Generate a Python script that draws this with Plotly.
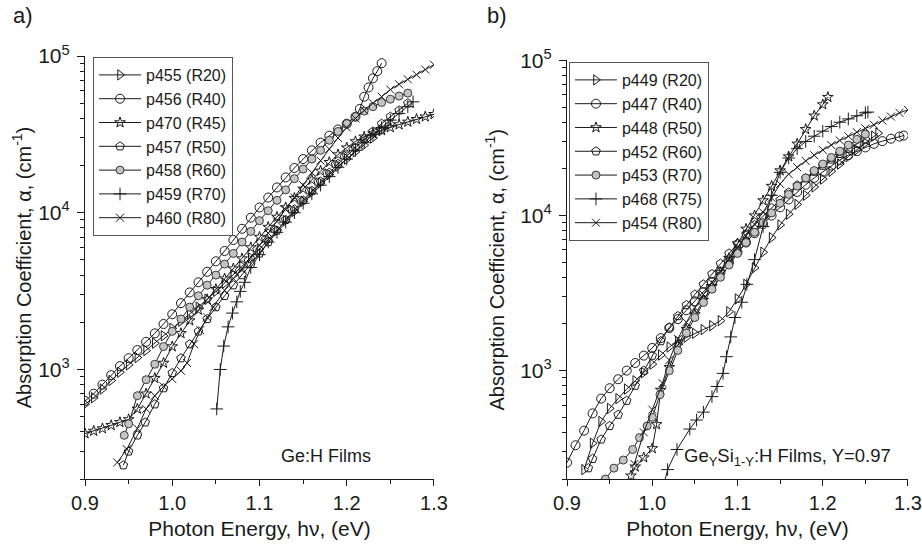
import plotly.graph_objects as go

# ---------------- Panel a) Ge:H films ----------------
a_p455_E = [0.90, 0.91, 0.92, 0.93, 0.94, 0.95, 0.96, 0.97, 0.98, 0.99, 1.00, 1.01, 1.02, 1.03, 1.04, 1.05, 1.06, 1.07, 1.08, 1.09, 1.10, 1.11, 1.12, 1.13, 1.14, 1.15, 1.16, 1.17, 1.18, 1.19, 1.20, 1.21, 1.22, 1.23, 1.24, 1.25]
a_p455_A = [600, 660, 750, 850, 960, 1070, 1190, 1320, 1470, 1640, 1830, 2030, 2250, 2500, 2800, 3150, 3550, 4000, 4550, 5150, 5850, 6700, 7700, 8900, 10200, 11800, 13500, 15500, 17500, 19800, 22000, 24500, 27000, 30000, 33500, 37000]

a_p456_E = [0.90, 0.91, 0.92, 0.93, 0.94, 0.95, 0.96, 0.97, 0.98, 0.99, 1.00, 1.01, 1.02, 1.03, 1.04, 1.05, 1.06, 1.07, 1.08, 1.09, 1.10, 1.11, 1.12, 1.13, 1.14, 1.15, 1.16, 1.17, 1.18, 1.19, 1.20, 1.21, 1.215, 1.22, 1.225, 1.23, 1.235, 1.24]
a_p456_A = [630, 700, 800, 920, 1050, 1180, 1330, 1500, 1700, 1950, 2250, 2650, 3100, 3600, 4200, 4900, 5700, 6700, 7900, 9300, 10800, 12500, 14500, 16800, 19300, 22000, 25000, 28000, 31000, 34000, 37000, 41000, 46000, 55000, 63000, 72000, 80000, 90000]

a_p470_E = [0.90, 0.91, 0.92, 0.93, 0.94, 0.95, 0.96, 0.97, 0.98, 0.99, 1.00, 1.01, 1.02, 1.03, 1.04, 1.05, 1.06, 1.07, 1.08, 1.09, 1.10, 1.11, 1.12, 1.13, 1.14, 1.15, 1.16, 1.17, 1.18, 1.19, 1.20, 1.21, 1.22, 1.23, 1.24, 1.25, 1.26, 1.27, 1.28, 1.29, 1.30]
a_p470_A = [390, 405, 420, 440, 460, 480, 560, 700, 880, 1100, 1400, 1700, 2050, 2400, 2800, 3250, 3800, 4400, 5100, 6000, 7000, 8100, 9400, 10800, 12400, 14200, 16200, 18500, 21000, 23500, 26000, 28500, 30500, 32000, 33500, 35000, 36500, 38000, 39500, 41000, 42500]

a_p457_E = [0.944, 0.95, 0.96, 0.969, 0.98, 0.99, 1.00, 1.01, 1.02, 1.03, 1.04, 1.05, 1.06, 1.07, 1.08, 1.09, 1.10, 1.11, 1.12, 1.13, 1.14, 1.15, 1.16, 1.17, 1.18, 1.19, 1.20, 1.21, 1.22, 1.23, 1.24, 1.25, 1.26, 1.27]
a_p457_A = [245, 300, 380, 460, 600, 760, 950, 1180, 1450, 1750, 2100, 2500, 2950, 3450, 4000, 4700, 5500, 6500, 7700, 9000, 10500, 12000, 13800, 15800, 18000, 20500, 23000, 26000, 29500, 33000, 37000, 41000, 45000, 50000]

a_p458_E = [0.945, 0.95, 0.96, 0.97, 0.98, 0.99, 1.00, 1.01, 1.02, 1.03, 1.04, 1.05, 1.06, 1.07, 1.08, 1.09, 1.10, 1.11, 1.12, 1.13, 1.14, 1.15, 1.16, 1.17, 1.18, 1.19, 1.20, 1.21, 1.22, 1.23, 1.24, 1.25, 1.26, 1.27]
a_p458_A = [380, 450, 680, 860, 1080, 1400, 1750, 2100, 2500, 2950, 3450, 4000, 4700, 5500, 6500, 7600, 8900, 10300, 12000, 14000, 16500, 19000, 22000, 25000, 29000, 33000, 37000, 41000, 44500, 47500, 50500, 53000, 55500, 58000]

a_p459_E = [1.051, 1.055, 1.059, 1.064, 1.069, 1.074, 1.078, 1.083, 1.09, 1.10, 1.11, 1.12, 1.13, 1.14, 1.15, 1.16, 1.17, 1.18, 1.19, 1.20, 1.21, 1.22, 1.23, 1.24, 1.25, 1.26, 1.27, 1.276]
a_p459_A = [560, 1000, 1410, 1870, 2290, 2700, 3150, 3600, 4470, 5400, 6500, 7500, 8700, 10000, 11500, 13200, 15000, 17000, 19500, 22000, 25000, 28000, 31500, 35000, 39000, 43000, 47500, 51000]

a_p460_E = [0.937, 0.948, 0.96, 0.97, 0.98, 0.99, 1.00, 1.01, 1.017, 1.025, 1.032, 1.04, 1.047, 1.06, 1.07, 1.08, 1.09, 1.10, 1.11, 1.12, 1.13, 1.14, 1.15, 1.16, 1.17, 1.18, 1.19, 1.20, 1.21, 1.22, 1.23, 1.24, 1.25, 1.26, 1.27, 1.28, 1.29, 1.30]
a_p460_A = [255, 310, 420, 560, 680, 780, 870, 980, 1100, 1450, 1780, 2150, 2500, 3200, 3800, 4400, 5200, 6200, 7400, 8800, 10500, 12500, 15000, 18000, 21500, 25500, 30000, 35000, 40000, 45000, 50000, 55000, 61000, 66000, 71000, 76000, 82000, 88000]

# ---------------- Panel b) GeSi:H films ----------------
b_p449_E = [0.92, 0.93, 0.94, 0.95, 0.96, 0.97, 0.98, 0.99, 1.00, 1.01, 1.02, 1.03, 1.04, 1.05, 1.06, 1.07, 1.08, 1.09, 1.10, 1.11, 1.12, 1.13, 1.14, 1.15, 1.16, 1.17, 1.18, 1.19, 1.20, 1.21, 1.22, 1.23, 1.24, 1.25, 1.26, 1.265]
b_p449_A = [230, 340, 470, 570, 660, 760, 860, 970, 1100, 1260, 1420, 1540, 1640, 1740, 1840, 1950, 2100, 2400, 2900, 3600, 4600, 5800, 7200, 8700, 10200, 11800, 13500, 15300, 17200, 19300, 21500, 24000, 26500, 29500, 32500, 34000]

b_p447_E = [0.90, 0.91, 0.92, 0.93, 0.94, 0.95, 0.96, 0.97, 0.98, 0.99, 1.00, 1.01, 1.02, 1.03, 1.04, 1.05, 1.06, 1.07, 1.08, 1.09, 1.10, 1.11, 1.12, 1.13, 1.14, 1.15, 1.16, 1.17, 1.18, 1.19, 1.20, 1.21, 1.22, 1.23, 1.24, 1.25, 1.26, 1.27, 1.28, 1.29, 1.295]
b_p447_A = [255, 330, 410, 530, 660, 770, 880, 1000, 1120, 1250, 1400, 1620, 1880, 2150, 2450, 2800, 3200, 3700, 4300, 5000, 5800, 6700, 7700, 8800, 10000, 11300, 12700, 14200, 15800, 17500, 19200, 21000, 22800, 24500, 26000, 27500, 29000, 30200, 31300, 32300, 32800]

b_p448_E = [0.975, 0.98, 0.99, 1.00, 1.005, 1.01, 1.02, 1.03, 1.04, 1.05, 1.06, 1.07, 1.08, 1.09, 1.10, 1.11, 1.12, 1.13, 1.14, 1.15, 1.16, 1.17, 1.18, 1.19, 1.20, 1.206]
b_p448_A = [210, 240, 275, 315, 450, 750, 1050, 1450, 1850, 2300, 2850, 3500, 4300, 5300, 6600, 8200, 10000, 12500, 15500, 19500, 24000, 29000, 36000, 44000, 52000, 58000]

b_p452_E = [0.925, 0.93, 0.94, 0.95, 0.96, 0.97, 0.98, 0.99, 1.00, 1.01, 1.02, 1.03, 1.04, 1.05, 1.06, 1.07, 1.08, 1.09, 1.10, 1.11, 1.12, 1.13, 1.14, 1.15, 1.16, 1.17, 1.18, 1.19, 1.20, 1.21, 1.22, 1.23, 1.24, 1.25]
b_p452_A = [235, 270, 360, 440, 520, 640, 800, 1000, 1250, 1550, 1900, 2250, 2650, 3100, 3600, 4200, 4900, 5700, 6600, 7600, 8700, 9900, 11200, 12600, 14100, 15700, 17400, 19200, 21000, 23000, 25000, 27000, 29000, 31000]

b_p453_E = [0.945, 0.955, 0.966, 0.977, 0.985, 0.994, 1.00, 1.009, 1.02, 1.03, 1.04, 1.05, 1.06, 1.07, 1.08, 1.09, 1.10, 1.11, 1.12, 1.13, 1.14, 1.15, 1.16, 1.17, 1.18, 1.19, 1.20, 1.21, 1.22, 1.23, 1.24, 1.25]
b_p453_A = [200, 235, 265, 310, 370, 440, 500, 700, 1000, 1350, 1750, 2200, 2750, 3350, 4000, 4800, 5700, 6700, 7800, 9000, 10400, 12000, 13700, 15500, 17500, 19500, 21500, 23700, 26000, 28500, 31000, 33500]

b_p468_E = [1.012, 1.018, 1.029, 1.044, 1.052, 1.060, 1.070, 1.076, 1.083, 1.087, 1.092, 1.097, 1.105, 1.111, 1.12, 1.13, 1.14, 1.15, 1.16, 1.17, 1.18, 1.19, 1.20, 1.21, 1.22, 1.23, 1.24, 1.25, 1.253]
b_p468_A = [170, 230, 310, 420, 480, 540, 680, 790, 960, 1230, 1650, 2200, 2760, 3600, 5200, 8500, 13500, 19000, 23500, 27000, 30000, 32500, 35000, 37500, 40000, 42000, 44000, 46000, 46500]

b_p454_E = [0.979, 0.99, 1.00, 1.012, 1.02, 1.03, 1.04, 1.05, 1.06, 1.07, 1.08, 1.09, 1.10, 1.11, 1.12, 1.13, 1.14, 1.15, 1.16, 1.17, 1.18, 1.19, 1.20, 1.21, 1.22, 1.23, 1.24, 1.25, 1.26, 1.27, 1.28, 1.29, 1.30]
b_p454_A = [250, 400, 560, 830, 1170, 1600, 2050, 2550, 3100, 3700, 4400, 5200, 6200, 7400, 8800, 10500, 13000, 16000, 18500, 20500, 22500, 24500, 26500, 28500, 30500, 32500, 34500, 36500, 38500, 41000, 43500, 46000, 48000]

a_names = ["p455 (R20)", "p456 (R40)", "p470 (R45)", "p457 (R50)", "p458 (R60)", "p459 (R70)", "p460 (R80)"]
b_names = ["p449 (R20)", "p447 (R40)", "p448 (R50)", "p452 (R60)", "p453 (R70)", "p468 (R75)", "p454 (R80)"]

x_tickvals = [0.9, 1.0, 1.1, 1.2, 1.3]
x_ticktext = ["0.9", "1.0", "1.1", "1.2", "1.3"]
y_tickvals = [1e3, 1e4, 1e5]
y_ticktext = ["10<sup>3</sup>", "10<sup>4</sup>", "10<sup>5</sup>"]

FONT = "Liberation Sans, Arial, sans-serif"
INK = "#1a1a1a"

# marker styles: (symbol, size, fill colour, outline colour)
STYLES = [
    ("triangle-right-open", 9, INK, INK),
    ("circle-open", 9, INK, INK),
    ("star-open", 8, INK, INK),
    ("pentagon-open", 9, INK, INK),
    ("circle", 8, "#c4c4c4", "#3a3a3a"),
    ("cross-thin-open", 9, INK, INK),
    ("x-thin-open", 8, INK, INK),
]

fig = go.Figure()

a_sets = [(a_p455_E, a_p455_A), (a_p456_E, a_p456_A), (a_p470_E, a_p470_A), (a_p457_E, a_p457_A),
          (a_p458_E, a_p458_A), (a_p459_E, a_p459_A), (a_p460_E, a_p460_A)]
b_sets = [(b_p449_E, b_p449_A), (b_p447_E, b_p447_A), (b_p448_E, b_p448_A), (b_p452_E, b_p452_A),
          (b_p453_E, b_p453_A), (b_p468_E, b_p468_A), (b_p454_E, b_p454_A)]

for panel, sets, names, xa, ya, lg in [("a", a_sets, a_names, "x", "y", "legend"),
                                       ("b", b_sets, b_names, "x2", "y2", "legend2")]:
    for (E, A), name, (sym, size, fill, edge) in zip(sets, names, STYLES):
        fig.add_trace(go.Scatter(
            x=E, y=A, name=name, mode="lines+markers",
            xaxis=xa, yaxis=ya, legend=lg,
            line=dict(color=INK, width=1),
            marker=dict(symbol=sym, size=size, color=fill,
                        line=dict(color=edge, width=1)),
        ))

def xaxis_cfg(domain):
    return dict(domain=domain, range=[0.9, 1.3], tickvals=x_tickvals, ticktext=x_ticktext,
                ticks="outside", ticklen=6, tickwidth=1.2, tickcolor=INK,
                minor=dict(ticks="outside", ticklen=4, tickwidth=1.2, tickcolor=INK, dtick=0.05, tick0=0.9),
                showline=True, linecolor=INK, linewidth=1.3, showgrid=False, zeroline=False,
                tickfont=dict(size=20, color=INK, family=FONT),
                title=dict(text="Photon Energy, h\u03bd, (eV)", font=dict(size=21, color=INK, family=FONT), standoff=8),
                automargin=False)

minor_vals = [m * 10 ** e for e in (2, 3, 4) for m in range(2, 10) if m * 10 ** e >= 200]

def yaxis_cfg(domain, anchor, standoff):
    return dict(domain=domain, type="log", range=[2.301, 5.0], anchor=anchor,
                tickvals=y_tickvals, ticktext=y_ticktext,
                ticks="outside", ticklen=7, tickwidth=1.2, tickcolor=INK,
                minor=dict(ticks="outside", ticklen=4, tickwidth=1.2, tickcolor=INK, tickvals=minor_vals),
                showline=True, linecolor=INK, linewidth=1.3, showgrid=False, zeroline=False,
                tickfont=dict(size=21, color=INK, family=FONT), ticklabelstandoff=3,
                title=dict(text="Absorption Coefficient, \u03b1, (cm<sup>-1</sup>)",
                           font=dict(size=20, color=INK, family=FONT), standoff=standoff),
                automargin=False)

legend_common = dict(xanchor="left", yanchor="top", bgcolor="white", bordercolor="#555", borderwidth=1,
                     font=dict(size=16, color=INK, family=FONT), tracegroupgap=0, itemwidth=42)

fig.update_layout(
    width=922, height=547,
    margin=dict(l=0, r=0, t=0, b=0),
    paper_bgcolor="white", plot_bgcolor="white",
    font=dict(family=FONT, color=INK),
    showlegend=True,
    xaxis=dict(xaxis_cfg([0.0922, 0.4707]), anchor="y"),
    yaxis=yaxis_cfg([0.1243, 0.8976], "x", 1),
    xaxis2=dict(xaxis_cfg([0.6150, 0.9848]), anchor="y2"),
    yaxis2=yaxis_cfg([0.1243, 0.8894], "x2", 10),
    legend=dict(legend_common, x=0.1009, y=0.8958),
    legend2=dict(legend_common, x=0.6171, y=0.8867),
    annotations=[
        dict(text="a)", x=0.012, y=0.998, xref="paper", yref="paper", xanchor="left", yanchor="top",
             showarrow=False, font=dict(size=22, color=INK, family=FONT)),
        dict(text="b)", x=0.526, y=0.998, xref="paper", yref="paper", xanchor="left", yanchor="top",
             showarrow=False, font=dict(size=22, color=INK, family=FONT)),
        dict(text="Ge:H Films", x=1.176, y=2.446, xref="x", yref="y", xanchor="center", yanchor="middle",
             showarrow=False, font=dict(size=18, color=INK, family=FONT)),
        dict(text="Ge<sub>Y</sub>Si<sub>1-Y</sub>:H Films, Y=0.97", x=1.159, y=2.44, xref="x2", yref="y2",
             xanchor="center", yanchor="middle", showarrow=False,
             font=dict(size=18.5, color=INK, family=FONT)),
    ],
)

fig.write_html("out.html", config={"displayModeBar": False},
               post_script="document.body.style.margin='0';document.body.style.overflow='hidden';")
